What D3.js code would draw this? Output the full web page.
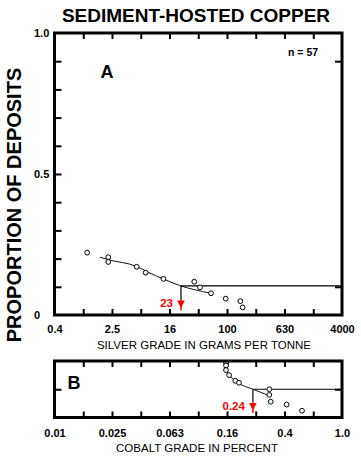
<!DOCTYPE html>
<html><head><meta charset="utf-8">
<script src="https://cdn.jsdelivr.net/npm/d3@7"></script>
<style>
html,body{margin:0;padding:0;background:#fff;}
svg{display:block;font-family:"Liberation Sans",Arial,sans-serif;}
</style></head>
<body><svg id="c" width="361" height="458"></svg>
<script>
// ---------- data ----------
const title = "SEDIMENT-HOSTED COPPER";
const yTitle = "PROPORTION OF DEPOSITS";
const nLabel = "n = 57";
// Panel A: silver grade (g/t)
const silverGrade = [1.14, 2.24, 2.24, 5.57, 7.43, 13.1, 35.2, 42.3, 60.2, 96.4, 154, 166];
const silverProp  = [0.221, 0.205, 0.188, 0.171, 0.150, 0.128, 0.118, 0.098, 0.077, 0.058, 0.049, 0.027];
const silverCurveGrade = [1.72, 2.26, 5.58, 8.0, 13.0, 23, 35, 60.2];
const silverCurveProp  = [0.205, 0.196, 0.172, 0.152, 0.128, 0.103, 0.090, 0.077];
const silverMedian = 23;
const silverMedianProp = 0.103;
const silverTickLabels = ["0.4", "2.5", "16", "100", "630", "4000"];
const silverTitle = "SILVER GRADE IN GRAMS PER TONNE";
const yTickLabels = ["0", "0.5", "1.0"];
// Panel B: cobalt grade (%)
const cobaltGrade = [0.156, 0.156, 0.156, 0.164, 0.181, 0.192, 0.312, 0.312, 0.319, 0.412, 0.527];
const cobaltProp  = [0.193, 0.184, 0.168, 0.150, 0.130, 0.123, 0.100, 0.080, 0.056, 0.046, 0.024];
const cobaltCurveGrade = [0.153, 0.169, 0.190, 0.24, 0.316];
const cobaltCurveProp  = [0.175, 0.143, 0.122, 0.100, 0.076];
const cobaltMedian = 0.24;
const cobaltMedianProp = 0.100;
const cobaltTickLabels = ["0.01", "0.025", "0.063", "0.16", "0.4", "1.0"];
const cobaltTitle = "COBALT GRADE IN PERCENT";

// ---------- layout ----------
const svg = d3.select("#c");
const L = 54.5, R = 342;
const A = {top: 33, bottom: 315};
const B = {top: 361, bottom: 417.5};

const xA = d3.scaleLog().domain([0.4, 4000]).range([L, R]);
const yA = d3.scaleLinear().domain([0, 1]).range([A.bottom, A.top]);
const xB = d3.scaleLog().domain([0.01, 1]).range([L, R]);
const yB = d3.scaleLinear().domain([0, 0.2]).range([B.bottom, B.top]);

const ticksA = d3.range(11).map(k => 0.4 * Math.pow(10, 0.4 * k));
const ticksB = d3.range(11).map(k => 0.01 * Math.pow(10, 0.2 * k));
const innerA = ticksA.slice(1, -1), innerB = ticksB.slice(1, -1);

// Title
svg.append("text").attr("x", 196).attr("y", 22.3).attr("text-anchor", "middle")
  .attr("font-size", 19).attr("font-weight", "bold").text(title);

// y title
svg.append("text").attr("transform", "translate(21,205) rotate(-90)")
  .attr("text-anchor", "middle").attr("font-size", 20).attr("font-weight", "bold").text(yTitle);

function tickAxis(g, scale, vals, y, size, dir) {
  const ax = (dir === "top" ? d3.axisBottom(scale) : d3.axisTop(scale))
    .tickValues(vals).tickSize(size).tickSizeOuter(0).tickFormat("");
  const sel = g.append("g").attr("transform", `translate(0,${y})`).call(ax);
  sel.select(".domain").remove();
  sel.selectAll("line").attr("stroke", "#000").attr("stroke-width", 2);
}
function yTicks(g, scale, vals, x, size, side) {
  const ax = (side === "left" ? d3.axisRight(scale) : d3.axisLeft(scale))
    .tickValues(vals).tickSize(size).tickSizeOuter(0).tickFormat("");
  const sel = g.append("g").attr("transform", `translate(${x},0)`).call(ax);
  sel.select(".domain").remove();
  sel.selectAll("line").attr("stroke", "#000").attr("stroke-width", 2);
}

function panel(cfg) {
  const g = svg.append("g");
  const {x, y, top, bottom, inner} = cfg;
  tickAxis(g, x, inner, top, 6, "top");
  tickAxis(g, x, inner, bottom, 6, "bottom");
  yTicks(g, y, cfg.leftTicks, L, 7, "left");
  yTicks(g, y, cfg.rightTicks, R, 7, "right");
  // fitted curve
  const line = d3.line().x(d => x(d[0])).y(d => y(d[1])).curve(d3.curveMonotoneX);
  g.append("path").datum(d3.zip(cfg.curveX, cfg.curveY)).attr("d", line)
    .attr("fill", "none").attr("stroke", "#111").attr("stroke-width", 1);
  // median horizontal line
  g.append("line").attr("x1", x(cfg.median)).attr("x2", R)
    .attr("y1", y(cfg.medianProp)).attr("y2", y(cfg.medianProp))
    .attr("stroke", "#000").attr("stroke-width", 1.2);
  // vertical drop
  const mx = x(cfg.median);
  g.append("line").attr("x1", mx).attr("x2", mx).attr("y1", y(cfg.medianProp)).attr("y2", bottom - 15)
    .attr("stroke", "#000").attr("stroke-width", 1.2);
  g.append("line").attr("x1", mx).attr("x2", mx).attr("y1", bottom - 15).attr("y2", bottom - 4.5)
    .attr("stroke", "#f00").attr("stroke-width", 1.5);
  g.append("path").attr("d", `M${mx-3.8},${bottom-14.5}L${mx+3.8},${bottom-14.5}L${mx},${bottom-7}Z`)
    .attr("fill", "#f00");
  g.append("text").attr("x", mx - 8).attr("y", bottom - 8).attr("text-anchor", "end")
    .attr("fill", "#f00").attr("font-size", 11.5).attr("font-weight", "bold").text(cfg.medianLabel);
  // points
  g.selectAll("circle.pt").data(d3.zip(cfg.px, cfg.py)).join("circle")
    .attr("cx", d => x(d[0])).attr("cy", d => y(d[1])).attr("r", 2.4)
    .attr("fill", "#fff").attr("stroke", "#000").attr("stroke-width", 1);
  // frame
  g.append("rect").attr("x", L).attr("y", top).attr("width", R - L).attr("height", bottom - top)
    .attr("fill", "none").attr("stroke", "#000").attr("stroke-width", 3);
  // x labels
  const lab = d3.axisBottom(x).tickValues(cfg.majors).tickSize(0)
    .tickFormat((d, i) => cfg.labels[i]);
  const la = g.append("g").attr("transform", `translate(0,${bottom + cfg.labelDy})`).call(lab);
  la.select(".domain").remove();
  la.selectAll("text").attr("font-size", 11).attr("font-weight", "bold")
    .attr("font-family", "Liberation Sans, Arial, sans-serif").attr("fill", "#000").attr("dy", 0);
  // x title
  g.append("text").attr("x", cfg.titleX).attr("y", cfg.titleY).attr("text-anchor", "middle")
    .attr("font-size", 11.5).text(cfg.title);
  // panel letter
  g.append("text").attr("x", cfg.letterX).attr("y", cfg.letterY).attr("text-anchor", "middle")
    .attr("font-size", 18).attr("font-weight", "bold").text(cfg.letter);
}

panel({
  x: xA, y: yA, top: A.top, bottom: A.bottom, inner: innerA,
  leftTicks: d3.range(1, 10).map(k => k / 10), rightTicks: [0.1, 0.9],
  curveX: silverCurveGrade, curveY: silverCurveProp,
  median: silverMedian, medianProp: silverMedianProp, medianLabel: String(silverMedian),
  px: silverGrade, py: silverProp,
  majors: ticksA.filter((d, i) => i % 2 === 0), labels: silverTickLabels, labelDy: 14.5,
  title: silverTitle, titleX: 204, titleY: 348.5,
  letter: "A", letterX: 107, letterY: 78
});
panel({
  x: xB, y: yB, top: B.top, bottom: B.bottom, inner: innerB,
  leftTicks: [0.1], rightTicks: [0.1],
  curveX: cobaltCurveGrade, curveY: cobaltCurveProp,
  median: cobaltMedian, medianProp: cobaltMedianProp, medianLabel: String(cobaltMedian),
  px: cobaltGrade, py: cobaltProp,
  majors: ticksB.filter((d, i) => i % 2 === 0), labels: cobaltTickLabels, labelDy: 16,
  title: cobaltTitle, titleX: 197, titleY: 451.8,
  letter: "B", letterX: 74, letterY: 389
});

// y labels for A
const yVals = [0, 0.5, 1.0];
svg.append("g").selectAll("text").data(yVals).join("text")
  .attr("x", 34).attr("y", d => yA(d) + 4).attr("font-size", 11).attr("font-weight", "bold")
  .text((d, i) => yTickLabels[i]);

// n label
svg.append("text").attr("x", 288).attr("y", 56).attr("font-size", 10.5).attr("font-weight", "bold").text(nLabel);
</script></body></html>
